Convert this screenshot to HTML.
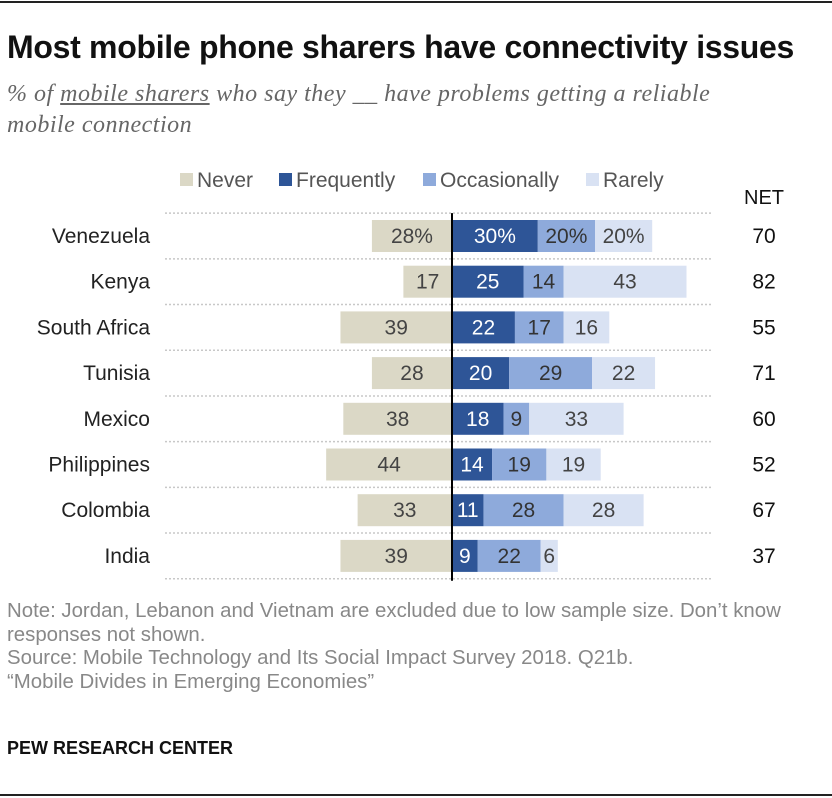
<!DOCTYPE html>
<html><head><meta charset="utf-8">
<style>
body{margin:0;width:832px;height:798px;background:#fff;font-family:"Liberation Sans",sans-serif;position:relative;overflow:hidden}
.t{position:absolute;white-space:nowrap}
</style></head><body>
<div style="position:absolute;left:0;top:1px;width:832px;height:2px;background:#222"></div>
<div class="t" style="left:7px;top:29px;font-size:32px;font-weight:bold;color:#111;letter-spacing:-0.3px">Most mobile phone sharers have connectivity issues</div>
<div class="t" style="left:7px;top:79px;font-family:'Liberation Serif',serif;font-style:italic;font-size:24px;letter-spacing:0.5px;color:#666;line-height:31px;white-space:normal;width:770px">% of <u>mobile sharers</u> who say they __ have problems getting a reliable mobile connection</div>
<svg id="chart" width="832" height="798" style="position:absolute;left:0;top:0" font-family="Liberation Sans, sans-serif"></svg>
<div class="t" style="left:7px;top:600px;font-size:20.4px;color:#888;line-height:23.5px">Note: Jordan, Lebanon and Vietnam are excluded due to low sample size. Don’t know<br>responses not shown.<br>Source: Mobile Technology and Its Social Impact Survey 2018. Q21b.<br>“Mobile Divides in Emerging Economies”</div>
<div class="t" style="left:7px;top:738px;font-size:18px;font-weight:bold;color:#111">PEW RESEARCH CENTER</div>
<div style="position:absolute;left:0;top:794px;width:832px;height:2px;background:#222"></div>
<script>
const countries=["Venezuela","Kenya","South Africa","Tunisia","Mexico","Philippines","Colombia","India"];
const never=[28,17,39,28,38,44,33,39];
const frequently=[30,25,22,20,18,14,11,9];
const occasionally=[20,14,17,29,9,19,28,22];
const rarely=[20,43,16,22,33,19,28,6];
const net=[70,82,55,71,60,52,67,37];
const NS="http://www.w3.org/2000/svg";
const svg=document.getElementById('chart');
const x0=452,k=2.86,y0=236,dy=45.7,bh=32;
const xs=v=>v*k;
const yc=i=>y0+i*dy;
function mk(tag,attrs){const e=document.createElementNS(NS,tag);for(const a in attrs)e.setAttribute(a,attrs[a]);svg.appendChild(e);return e;}
const cols={never:"#dbd8c6",freq:"#2e5597",occ:"#8eaadb",rare:"#d9e2f3"};
const leg=[["Never",cols.never,180],["Frequently",cols.freq,279],["Occasionally",cols.occ,423],["Rarely",cols.rare,586]];
leg.forEach(l=>{
 const r=mk('rect',{x:l[2],y:173,width:13,height:13,fill:l[1]});
 
 
 const t=mk('text',{x:l[2]+17,y:187,'font-size':21,fill:'#555'});t.textContent=l[0];
 
 
});
const nh=mk('text',{x:764,y:204,'font-size':20,fill:'#111','text-anchor':'middle'});nh.textContent="NET";


for(let i=0;i<=countries.length;i++){
 const y=yc(i)-dy/2;
 const l=mk('line',{x1:165,x2:712,y1:y,y2:y,stroke:'#c8c8c8','stroke-width':1.5,'stroke-dasharray':'2,2'});
 
 
}
countries.forEach((c,i)=>{
 const y=yc(i);
 const pct=i===0?"%":"";
 const t=mk('text',{x:150,y:y+7,'font-size':21,fill:'#222','text-anchor':'end'});t.textContent=c;
 
 
 const w=xs(never[i]);
 const r=mk('rect',{x:x0-w,y:y-bh/2,width:w,height:bh,fill:cols.never});
 
 
 const tv=mk('text',{x:x0-w/2,y:y+7,'font-size':21,fill:'#444','text-anchor':'middle'});tv.textContent=never[i]+pct;
 
 
 let x=x0;
 [[frequently,cols.freq,'#fff','frequently'],[occasionally,cols.occ,'#333','occasionally'],[rarely,cols.rare,'#444','rarely']].forEach(s=>{
  const ww=xs(s[0][i]);
  const b=mk('rect',{x:x,y:y-bh/2,width:ww,height:bh,fill:s[1]});
  
  
  const v=mk('text',{x:x+ww/2,y:y+7,'font-size':21,fill:s[2],'text-anchor':'middle'});v.textContent=s[0][i]+pct;
  
  
  x+=ww;
 });
 const n=mk('text',{x:764,y:y+7,'font-size':21,fill:'#111','text-anchor':'middle'});n.textContent=net[i];
 
 
});
const z=mk('line',{x1:x0,x2:x0,y1:yc(0)-dy/2,y2:yc(countries.length-1)+dy/2+2,stroke:'#000','stroke-width':2});


</script>
</body></html>
